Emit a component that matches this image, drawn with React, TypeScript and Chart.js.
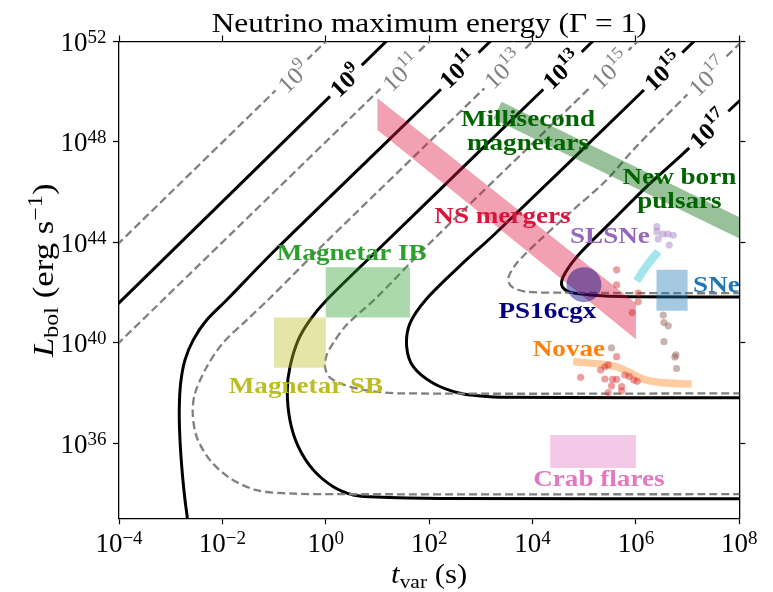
import React, { useEffect, useRef } from 'react';
import { Chart, registerables } from 'chart.js';

Chart.register(...registerables);

// ---------------- axes ----------------
const X_MIN = 1e-4;
const X_MAX = 1e8;
const Y_MIN = 1e33;
const Y_MAX = 1e52;
const X_TICK_EXP = [-4, -2, 0, 2, 4, 6, 8];
const Y_TICK_EXP = [36, 40, 44, 48, 52];
const TITLE = 'Neutrino maximum energy (Γ = 1)';

// ---------------- contours: [log10 t_var (s), log10 L_bol (erg/s)] ----------------
const DASHED_E9 = [[-4.2, 43.57], [0.2, 52.4]];
const SOLID_E9 = [[-4.2, 41.18], [1.3, 52.27]];
const DASHED_E11 = [[-4.2, 39.6], [2.2, 52.4]];
const SOLID_E11 = [[-2.66, 32.5], [-2.679, 33.02], [-2.723, 33.73], [-2.776, 34.81], [-2.82, 36.12], [-2.834, 37.32], [-2.807, 38.39], [-2.723, 39.31], [-2.563, 40.11], [-2.304, 40.9], [-1.917, 41.7], [-1, 43.64], [1, 47.64], [3.18, 52], [3.4, 52.44]];
const DASHED_E13 = [[8.5, 33.96], [0.211, 33.96], [-0.692, 33.99], [-1.337, 34.12], [-1.853, 34.6], [-2.24, 35.32], [-2.497, 36.24], [-2.574, 37.19], [-2.53, 37.98], [-2.304, 39.03], [-1.988, 39.99], [-1.53, 40.9], [-1.118, 41.7], [0, 44], [2, 48], [4, 52], [4.2, 52.4]];
const SOLID_E13 = [[8.5, 33.78], [2.209, 33.79], [0.855, 33.86], [0.532, 33.93], [0.145, 34.26], [-0.242, 34.93], [-0.532, 35.86], [-0.692, 36.9], [-0.745, 38.1], [-0.692, 39.04], [-0.532, 40.11], [-0.306, 40.9], [0.017, 41.7], [1, 43.68], [3, 47.68], [5.16, 52], [5.4, 52.48]];
const DASHED_E15 = [[8.5, 37.98], [1.435, 37.98], [0.725, 38.12], [0.275, 38.38], [0.06, 38.65], [-0.015, 39.04], [0.017, 39.5], [0.15, 40.0], [0.4, 40.7], [0.985, 41.8], [2, 43.94], [4, 47.94], [6.03, 52], [6.3, 52.54]];
const SOLID_E15 = [[8.5, 37.8], [3.369, 37.82], [3.112, 37.85], [2.596, 37.98], [2.079, 38.38], [1.693, 39.04], [1.565, 39.84], [1.629, 40.77], [1.952, 41.75], [2.596, 43.06], [3.306, 44.4], [5.98, 49.72], [7.12, 52], [7.4, 52.56]];
const DASHED_E17 = [[8.5, 41.97], [6.851, 41.97], [4.594, 41.99], [3.886, 42.03], [3.596, 42.23], [3.53, 42.57], [3.692, 43.16], [4.143, 44.09], [4.787, 45.29], [5.433, 46.48], [5.948, 47.68], [7, 49.9], [8.05, 52], [8.3, 52.5]];
const SOLID_E17 = [[8.5, 41.82], [5.884, 41.83], [5.11, 41.9], [4.691, 42.03], [4.563, 42.3], [4.627, 42.76], [4.917, 43.56], [5.561, 44.89], [6.207, 46.22], [6.851, 47.41], [8, 49.63], [8.5, 50.6]];

// contour labels
const CLABEL_EXP = [9, 9, 11, 11, 13, 13, 15, 15, 17, 17];
const CLABEL_SOLID = [false, true, false, true, false, true, false, true, false, true];
const CLABEL_LOGT = [-0.629, 0.381, 1.455, 2.557, 3.427, 4.559, 5.497, 6.522, 7.383, 7.398];
const CLABEL_LOGL = [50.6, 50.45, 50.78, 50.9, 50.9, 50.88, 50.88, 50.82, 50.6, 48.51];

// ---------------- source classes ----------------
const NS_T = [10, 1e6];
const NS_L_UPPER = [5.5e49, 3.7e41];
const NS_L_LOWER = [2.95e48, 1.38e40];

const MAGNETAR_BAND_T = [2.09e3, 3.16e8];
const MAGNETAR_BAND_L = [1.82e49, 1.2e44];

const MAGNETAR_IB_T = [1, 42.5];
const MAGNETAR_IB_L = [1e41, 1e43];
const MAGNETAR_SB_T = [0.1, 1];
const MAGNETAR_SB_L = [1e39, 1e41];
const CRAB_T = [2.2e4, 1e6];
const CRAB_L = [1e35, 2.1e36];
const SNE_T = [2.5e6, 1e7];
const SNE_L = [1.85e41, 8e42];

const SLSN_CURVE = [[6.014, 42.46], [6.2, 43.04], [6.432, 43.63]];
const NOVAE_CURVE = [[4.787, 39.24], [5.304, 39.15], [5.627, 39.04], [5.884, 38.8], [6.141, 38.54], [6.464, 38.41], [7.077, 38.35]];

const PS16CGX = [[4.994, 42.31]];

const SLSN_LOGT = [6.406, 6.406, 6.522, 6.619, 6.721, 6.431, 6.644];
const SLSN_LOGL = [44.62, 44.42, 44.33, 44.33, 44.28, 44.13, 43.89];

const RED_LOGT = [5.627, 5.627, 6.045, 6.045, 5.928, 5.627, 5.317, 5.4, 5.464, 4.93, 5.4, 5.549, 5.627, 5.787, 5.871, 5.961, 6.025, 5.528, 5.723, 5.464, 5.723];
const RED_LOGL = [42.9, 42.3, 41.97, 41.63, 41.2, 39.44, 38.91, 39.04, 39.11, 38.62, 38.55, 38.54, 38.54, 38.71, 38.65, 38.51, 38.46, 38.28, 38.25, 38.01, 38.08];

const BROWN_LOGT = [6.528, 6.542, 6.625, 6.542, 6.774, 6.754, 6.787, 5.528];
const BROWN_LOGL = [41.1, 40.8, 40.67, 40.04, 39.51, 39.43, 38.97, 39.79];

// annotation texts (anchored in data coordinates: centre x, first baseline)
const ANNOT_TEXT = ['Millisecond\nmagnetars', 'New born\npulsars', 'NS mergers', 'SLSNe', 'PS16cgx', 'SNe', 'Novae', 'Magnetar IB', 'Magnetar SB', 'Crab flares'];
const ANNOT_LOGT = [3.911, 6.841, 3.418, 5.497, 4.288, 7.557, 4.704, 0.501, -0.383, 5.284];
const ANNOT_LOGL = [48.65, 46.31, 44.78, 43.98, 41.0, 42.03, 39.48, 43.29, 37.98, 34.29];
const ANNOT_COLOR = ['#006400', '#006400', '#DC143C', '#9467BD', '#000080', '#1F77B4', '#FF7F0E', '#2CA02C', '#BCBD22', '#E377C2'];

// ---------------- helpers ----------------
const FONT = '"Liberation Serif", "Times New Roman", serif';
type Run = { t: string; size: number; dy?: number; bold?: boolean; italic?: boolean };
const fontOf = (r: Run) => `${r.italic ? 'italic ' : ''}${r.bold ? 'bold ' : ''}${r.size}px ${FONT}`;

function runsWidth(ctx: CanvasRenderingContext2D, runs: Run[]) {
  let w = 0;
  for (const r of runs) {
    ctx.font = fontOf(r);
    w += ctx.measureText(r.t).width;
  }
  return w;
}

function drawRuns(
  ctx: CanvasRenderingContext2D,
  runs: Run[],
  x: number,
  y: number,
  o: { align?: 'left' | 'center' | 'right'; rot?: number; sx?: number; color: string; yOff?: number; box?: boolean }
) {
  const sx = o.sx ?? 1;
  const w = runsWidth(ctx, runs);
  ctx.save();
  ctx.translate(x, y);
  if (o.rot) ctx.rotate(o.rot);
  ctx.scale(sx, 1);
  if (o.box) {
    ctx.fillStyle = '#ffffff';
    ctx.fillRect(-w / 2 - 5, -12, w + 10, 24);
  }
  let cx = o.align === 'center' ? -w / 2 : o.align === 'right' ? -w : 0;
  ctx.fillStyle = o.color;
  ctx.textAlign = 'left';
  ctx.textBaseline = 'alphabetic';
  for (const r of runs) {
    ctx.font = fontOf(r);
    ctx.fillText(r.t, cx, (o.yOff ?? 0) + (r.dy ?? 0));
    cx += ctx.measureText(r.t).width;
  }
  ctx.restore();
}

const expText = (e: number) => (e < 0 ? '\u2212' + Math.abs(e) : String(e));

const textPlugin = {
  id: 'figureTexts',
  afterDraw(chart: any) {
    const ctx: CanvasRenderingContext2D = chart.ctx;
    const xs = chart.scales.x;
    const ys = chart.scales.y;
    const area = chart.chartArea;
    const X = (lt: number) => xs.getPixelForValue(10 ** lt);
    const Y = (lL: number) => ys.getPixelForValue(10 ** lL);

    // title
    drawRuns(ctx, [{ t: TITLE, size: 28 }], (area.left + area.right) / 2, area.top - 10, { align: 'center', sx: 1.12, color: '#000' });

    // x tick labels
    for (const e of X_TICK_EXP) {
      drawRuns(ctx, [{ t: '10', size: 27 }, { t: expText(e), size: 19, dy: -8 }], X(e), area.bottom + 33.4, { align: 'center', color: '#000' });
    }
    // y tick labels
    for (const e of Y_TICK_EXP) {
      drawRuns(ctx, [{ t: '10', size: 27 }, { t: expText(e), size: 19, dy: -8 }], area.left - 12.5, Y(e) + 9.5, { align: 'right', color: '#000' });
    }
    // axis titles
    drawRuns(ctx, [{ t: 't', size: 28, italic: true }, { t: 'var', size: 19.5, dy: 5 }, { t: ' (s)', size: 28 }], (area.left + area.right) / 2, area.bottom + 64.5, { align: 'center', sx: 1.1, color: '#000' });
    drawRuns(ctx, [{ t: 'L', size: 29, italic: true }, { t: 'bol', size: 20, dy: 5 }, { t: ' (erg s', size: 29 }, { t: '\u22121', size: 20, dy: -11 }, { t: ')', size: 29 }], 53, 357, { align: 'left', rot: -Math.PI / 2, sx: 1.2, color: '#000' });

    // contour labels
    const ang = Math.atan2(Y(42) - Y(40), X(1) - X(0));
    for (let i = 0; i < CLABEL_EXP.length; i++) {
      const bold = CLABEL_SOLID[i];
      drawRuns(
        ctx,
        [{ t: '10', size: 24, bold }, { t: String(CLABEL_EXP[i]), size: 17, dy: -10, bold }],
        X(CLABEL_LOGT[i]), Y(CLABEL_LOGL[i]),
        { align: 'center', rot: ang, sx: 1.05, color: bold ? '#000000' : '#808080', yOff: 8.5, box: true }
      );
    }

    // annotations
    for (let i = 0; i < ANNOT_TEXT.length; i++) {
      const lines = ANNOT_TEXT[i].split('\n');
      lines.forEach((ln, k) => {
        drawRuns(ctx, [{ t: ln, size: 24, bold: true }], X(ANNOT_LOGT[i]), Y(ANNOT_LOGL[i]) + k * 24, { align: 'center', sx: 1.13, color: ANNOT_COLOR[i] });
      });
    }
  },
};

// ---------------- datasets ----------------
const P = (lt: number, lL: number) => ({ x: 10 ** lt, y: 10 ** lL });
const curve = (arr: number[][]) => arr.map(([a, b]) => P(a, b));

function contour(arr: number[][], dashed: boolean) {
  return {
    data: curve(arr),
    showLine: true,
    pointRadius: 0,
    borderColor: dashed ? '#808080' : '#000000',
    borderWidth: dashed ? 2.3 : 3,
    borderDash: dashed ? [8, 4] : [],
    tension: 0.3,
    fill: false,
    clip: 0,
    order: 10,
  };
}

function polygon(points: { x: number; y: number }[], color: string) {
  return {
    data: points,
    showLine: true,
    pointRadius: 0,
    borderWidth: 0,
    borderColor: 'rgba(0,0,0,0)',
    backgroundColor: color,
    fill: 'shape',
    tension: 0,
    clip: 0,
    order: 5,
  };
}

function rect(ts: number[], Ls: number[], color: string) {
  return polygon([
    { x: ts[0], y: Ls[0] },
    { x: ts[1], y: Ls[0] },
    { x: ts[1], y: Ls[1] },
    { x: ts[0], y: Ls[1] },
  ], color);
}

function band(points: { x: number; y: number }[], color: string, width: number, tension: number) {
  return {
    data: points,
    showLine: true,
    pointRadius: 0,
    borderColor: color,
    borderWidth: width,
    borderCapStyle: 'butt',
    tension,
    fill: false,
    clip: 0,
    order: 5,
  };
}

function dots(lt: number[], lL: number[], color: string, r: number, order: number) {
  return {
    data: lt.map((t, i) => P(t, lL[i])),
    showLine: false,
    pointRadius: r,
    pointBorderWidth: 0,
    backgroundColor: color,
    borderColor: 'rgba(0,0,0,0)',
    clip: 0,
    order,
  };
}

function buildDatasets() {
  return [
    contour(DASHED_E9, true),
    contour(SOLID_E9, false),
    contour(DASHED_E11, true),
    contour(SOLID_E11, false),
    contour(DASHED_E13, true),
    contour(SOLID_E13, false),
    contour(DASHED_E15, true),
    contour(SOLID_E15, false),
    contour(DASHED_E17, true),
    contour(SOLID_E17, false),
    polygon([
      { x: NS_T[0], y: NS_L_UPPER[0] },
      { x: NS_T[1], y: NS_L_UPPER[1] },
      { x: NS_T[1], y: NS_L_LOWER[1] },
      { x: NS_T[0], y: NS_L_LOWER[0] },
    ], 'rgba(220,20,60,0.4)'),
    band(MAGNETAR_BAND_T.map((t, i) => ({ x: t, y: MAGNETAR_BAND_L[i] })), 'rgba(0,100,0,0.4)', 19, 0),
    rect(MAGNETAR_IB_T, MAGNETAR_IB_L, 'rgba(44,160,44,0.4)'),
    rect(MAGNETAR_SB_T, MAGNETAR_SB_L, 'rgba(188,189,34,0.4)'),
    rect(CRAB_T, CRAB_L, 'rgba(227,119,194,0.4)'),
    rect(SNE_T, SNE_L, 'rgba(31,119,180,0.4)'),
    band(curve(SLSN_CURVE), 'rgba(23,190,207,0.4)', 8, 0.3),
    band(curve(NOVAE_CURVE), 'rgba(255,127,14,0.4)', 7.5, 0.3),
    dots(RED_LOGT, RED_LOGL, 'rgba(214,39,40,0.45)', 3.6, 3),
    dots(BROWN_LOGT, BROWN_LOGL, 'rgba(140,86,75,0.45)', 3.6, 3),
    dots(SLSN_LOGT, SLSN_LOGL, 'rgba(148,103,189,0.4)', 3.6, 3),
    dots(PS16CGX.map((p) => p[0]), PS16CGX.map((p) => p[1]), 'rgba(0,0,128,0.45)', 17.5, 1),
  ];
}

function axis(position: string, min: number, max: number, exps: number[], extra: any = {}) {
  return {
    type: 'logarithmic',
    position,
    min,
    max,
    ...extra,
    afterBuildTicks: (s: any) => {
      s.ticks = exps.map((e) => ({ value: 10 ** e }));
    },
    ticks: { display: false },
    grid: { display: true, drawOnChartArea: false, drawTicks: true, tickLength: 6, tickWidth: 1.2, color: '#000000' },
    border: { display: true, color: '#000000', width: 1.3 },
    title: { display: false },
  };
}

export default function App() {
  const ref = useRef<HTMLCanvasElement>(null);
  useEffect(() => {
    const canvas = ref.current;
    if (!canvas) return;
    const chart = new Chart(canvas, {
      type: 'scatter',
      data: { datasets: buildDatasets() as any },
      options: {
        responsive: false,
        animation: false,
        devicePixelRatio: 1,
        events: [],
        layout: { padding: { left: 113, right: 27.7, top: 35.5, bottom: 67.7 } },
        elements: { line: { capBezierPoints: false } },
        plugins: { legend: { display: false }, tooltip: { enabled: false }, title: { display: false } },
        scales: {
          x: axis('bottom', X_MIN, X_MAX, X_TICK_EXP),
          x2: axis('top', X_MIN, X_MAX, X_TICK_EXP, { axis: 'x' }),
          y: axis('left', Y_MIN, Y_MAX, Y_TICK_EXP),
          y2: axis('right', Y_MIN, Y_MAX, Y_TICK_EXP, { axis: 'y' }),
        } as any,
      },
      plugins: [textPlugin],
    });
    return () => chart.destroy();
  }, []);
  return (
    <div style={{ position: 'absolute', left: 0, top: 0, width: 773, height: 592, background: '#ffffff' }}>
      <canvas ref={ref} width={773} height={592} style={{ display: 'block' }} />
    </div>
  );
}
